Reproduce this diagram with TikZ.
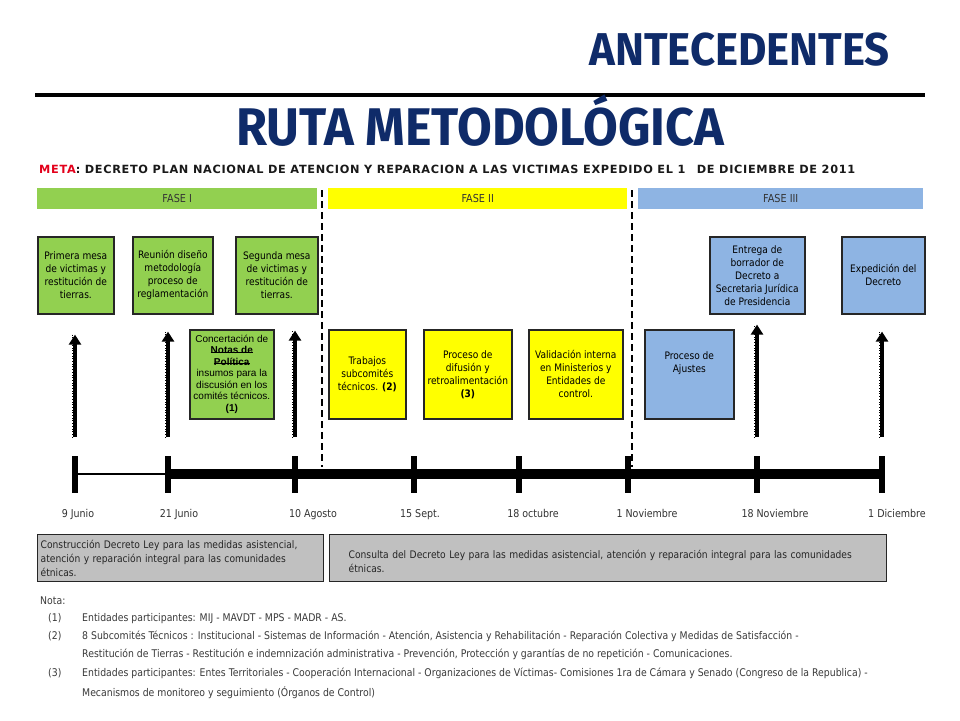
\documentclass[tikz,border=0pt]{standalone}
\usepackage{fontspec}
\setmainfont{DejaVu Sans}
\newfontfamily\bodyfont[FakeStretch=0.88]{DejaVu Sans}
\newfontfamily\metafont[LetterSpace=6]{DejaVu Sans}
\newfontfamily\arialfont{Liberation Sans}
\newfontfamily\titlefont[FakeStretch=0.95]{Fira Sans}
\usetikzlibrary{arrows.meta, positioning}
\definecolor{cnavy}{HTML}{0F2B69}
\definecolor{cgreen}{HTML}{92D050}
\definecolor{cyellow}{HTML}{FFFF00}
\definecolor{cblue}{HTML}{8EB4E3}
\definecolor{cgrey}{HTML}{C0C0C0}
\definecolor{cred}{HTML}{E3001B}
\definecolor{ctext}{HTML}{3A3A3A}
\newcommand\strk[1]{\setbox0\hbox{#1}\rlap{\rule[0.3ex]{\wd0}{0.7pt}}\box0}
\tikzset{
  every picture/.style={x=1pt, y=-1pt},
  box/.style={draw=black!85, line width=1.6pt, fill=#1, align=center, inner sep=1pt, anchor=north west,
    font=\bodyfont\fontsize{10.3}{13}\selectfont},
  box/.default=cgreen,
  fase/.style={fill=#1, minimum height=21, inner sep=0pt, anchor=north west,
    font=\bodyfont\fontsize{11}{12}\selectfont, text=black!80},
  greybox/.style={draw=black!85, line width=1.4pt, fill=cgrey, minimum height=47, align=left, anchor=north west,
    inner ysep=1pt, font=\bodyfont\fontsize{10.4}{14}\selectfont, text=black!85},
  uparrow/.style={-{Triangle[length=10pt, width=12pt]}, line width=3.6pt,
    preaction={draw, -, dotted, line width=0.7pt, transform canvas={xshift=-3pt}}},
  tickmark/.style={fill=black, minimum width=6, minimum height=37, inner sep=0pt},
  fasesep/.style={dashed, dash pattern=on 7pt off 4pt, line width=2pt},
  title/.style={font=\titlefont\bfseries\fontsize{46}{50}\selectfont, text=cnavy, inner sep=0pt},
  date/.style={anchor=base, inner sep=0pt, font=\bodyfont\fontsize{10.8}{12}\selectfont, text=black!80},
  note/.style={anchor=base west, inner sep=0pt, font=\bodyfont\fontsize{10.6}{12}\selectfont, text=ctext},
}

\begin{document}
\begin{tikzpicture}
  \fill[white] (0,0) rectangle (960,720);
  \useasboundingbox (0,0) rectangle (960,720);
  % titles
  \node[title, anchor=base east] (ante) at (890,65) {ANTECEDENTES};
  \draw[line width=4pt] (35,95) -- (925,95);
  \node[title, font=\titlefont\bfseries\fontsize{53}{60}\selectfont, anchor=base] (ruta) at (480,145) {RUTA METODOLÓGICA};
  \node[anchor=base west, inner sep=0pt, font=\metafont\bfseries\fontsize{11.3}{13}\selectfont, text=black!90] (meta) at (39,173)
    {\textcolor{cred}{META}: DECRETO PLAN NACIONAL DE ATENCION Y REPARACION A LAS VICTIMAS EXPEDIDO EL 1\hspace{1em}DE DICIEMBRE DE 2011};
  % fases
  \node[fase=cgreen, minimum width=280] (f1) at (37,188) {FASE I};
  \node[fase=cyellow, minimum width=299] (f2) at (328,188) {FASE II};
  \node[fase=cblue, minimum width=285] (f3) at (638,188) {FASE III};
  \draw[fasesep] (322,190) -- (322,467);
  \draw[fasesep] (632,190) -- (632,467);
  % fase I
  \node[box, minimum width=76, minimum height=77] (m1) at (37,236) {Primera mesa\\de victimas y\\restitución de\\tierras.};
  \node[box, minimum width=80, minimum height=77] (m2) at (132,236) {Reunión diseño\\metodología\\proceso de\\reglamentación};
  \node[box, minimum width=82, minimum height=77] (m3) at (235,236) {Segunda mesa\\de victimas y\\restitución de\\tierras.};
  \node[box, minimum width=84, minimum height=89, font=\arialfont\fontsize{10}{11.5}\selectfont] (m4) at (189,329)
    {Concertación de\\\strk{\textbf{Notas de}}\\\strk{\textbf{Política}}\\insumos para la\\discusión en los\\comités técnicos.\\\textbf{(1)}};
  % fase II
  \node[box=cyellow, minimum width=77, minimum height=89] (y1) at (328,329) {Trabajos\\subcomités\\técnicos. \textbf{(2)}};
  \node[box=cyellow, minimum width=88, minimum height=89] (y2) at (423,329) {Proceso de\\difusión y\\retroalimentación\\\textbf{(3)}};
  \node[box=cyellow, minimum width=94, minimum height=89] (y3) at (528,329) {Validación interna\\en Ministerios y\\Entidades de\\control.};
  % fase III
  \node[box=cblue, minimum width=89, minimum height=89] (b1) at (644,329) {Proceso de\\Ajustes\\[12pt]};
  \node[box=cblue, minimum width=95, minimum height=77] (b2) at (709,236) {Entrega de\\borrador de\\Decreto a\\Secretaria Jurídica\\de Presidencia};
  \node[box=cblue, minimum width=83, minimum height=77] (b3) at (841,236) {Expedición del\\Decreto};
  % linea de tiempo
  \foreach \x [count=\i] in {75, 168, 295, 414, 519, 628, 757, 882}
    \node[tickmark] (t\i) at (\x,474) {};
  \draw[line width=1.8pt] (t1) -- (t2);
  \draw[line width=10pt] (t2) -- (t8);
  \foreach \d/\x [count=\i] in {9 Junio/78, 21 Junio/179, 10 Agosto/313, 15 Sept./420,
      18 octubre/533, 1 Noviembre/647, 18 Noviembre/775, 1 Diciembre/897}
    \node[date] (d\i) at (\x,517) {\d};
  \foreach \t/\m/\s in {1/m1/20pt, 2/m2/17pt, 3/m3/16pt, 7/b2/10pt, 8/b3/17pt}
    \draw[uparrow, shorten <=18pt, shorten >=\s] (t\t.north) -- (t\t.north |- \m.south);
  % consulta
  \node[greybox, minimum width=286, text width=280, inner xsep=3pt] (g1) at (37,534)
    {Construcción Decreto Ley para las medidas asistencial,\\atención y reparación integral para las comunidades\\étnicas.};
  \node[greybox, minimum width=557, text width=519, inner xsep=19pt] (g2) at (329,534)
    {\mbox{}\\Consulta del Decreto Ley para las medidas asistencial, atención y reparación integral para las comunidades\\étnicas.};
  % notas
  \node[note] (nota) at (40,604) {Nota:};
  \node[note] (n1) at (48,621) {(1)};
  \node[note] (n1t) at (82,621) {Entidades participantes: MIJ - MAVDT - MPS - MADR - AS.};
  \node[note] (n2) at (48,639) {(2)};
  \node[note] (n2t) at (82,639) {8 Subcomités Técnicos : Institucional - Sistemas de Información - Atención, Asistencia y Rehabilitación - Reparación Colectiva y Medidas de Satisfacción -};
  \node[note] (n2c) at (82,657) {Restitución de Tierras - Restitución e indemnización administrativa - Prevención, Protección y garantías de no repetición - Comunicaciones.};
  \node[note] (n3) at (48,676) {(3)};
  \node[note] (n3t) at (82,676) {Entidades participantes: Entes Territoriales - Cooperación Internacional - Organizaciones de Víctimas- Comisiones 1ra de Cámara y Senado (Congreso de la Republica) -};
  \node[note] (n3c) at (82,696) {Mecanismos de monitoreo y seguimiento (Órganos de Control)};
\end{tikzpicture}
\end{document}
